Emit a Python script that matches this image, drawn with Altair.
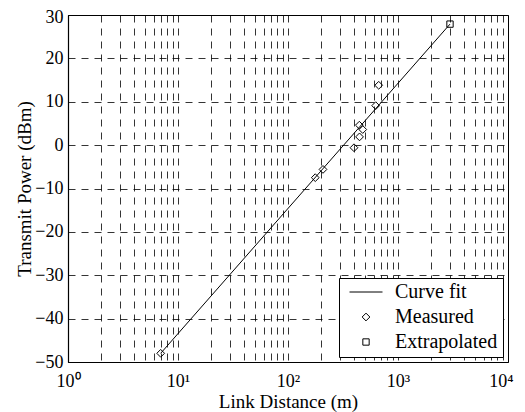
import altair as alt
import pandas as pd

# Measured points (link distance in m, transmit power in dBm)
meas_x = [6.96, 177, 208, 398, 447, 445, 478, 627, 668]
meas_y = [-48.0, -7.5, -5.6, -0.6, 1.9, 4.6, 3.6, 9.1, 13.8]
# Extrapolated point
extra_x = [2970]
extra_y = [27.9]
# Curve fit end points
fit_x = [6.96, 2970]
fit_y = [-48.0, 27.9]

series_names = ["Curve fit", "Measured", "Extrapolated"]
x_grid_values = [m * 10 ** e for e in range(4) for m in range(1, 10)] + [10000]
y_values = [-50, -40, -30, -20, -10, 0, 10, 20, 30]

FONT = "Liberation Serif, Times New Roman, serif"

pts = pd.DataFrame({
    "dist": meas_x + extra_x,
    "power": meas_y + extra_y,
    "series": ["Measured"] * len(meas_x) + ["Extrapolated"] * len(extra_x),
})
fit = pd.DataFrame({"dist": fit_x, "power": fit_y, "series": ["Curve fit"] * len(fit_x)})

label_expr = ("datum.value == 1 ? '10⁰' : datum.value == 10 ? '10¹' : "
              "datum.value == 100 ? '10²' : datum.value == 1000 ? '10³' : "
              "datum.value == 10000 ? '10⁴' : ''")

x_enc = alt.X("dist:Q",
              scale=alt.Scale(type="log", domain=[1, 10000], nice=False),
              axis=alt.Axis(values=x_grid_values, labelExpr=label_expr,
                            labelOverlap=False, title="Link Distance (m)",
                            labelPadding=10, titlePadding=2, labelFlush=False,
                            labelOffset={"condition": {"test": "datum.value == 10000", "value": -7},
                                         "value": 0}))
y_enc = alt.Y("power:Q",
              scale=alt.Scale(domain=[-50, 30], nice=False, zero=False),
              axis=alt.Axis(values=y_values, title="Transmit Power (dBm)",
                            labelPadding=5, titlePadding=0,
                            labelOffset={"condition": {"test": "datum.value == 30", "value": 2},
                                         "value": 0}))

line = alt.Chart(fit).mark_line(color="black", strokeWidth=1).encode(
    x=x_enc, y=y_enc, detail="series:N"
)

leg = alt.Legend(title=None)

points = alt.Chart(pts).mark_point(filled=False, color="black", strokeWidth=1, opacity=1).encode(
    x=x_enc, y=y_enc,
    shape=alt.Shape("series:N",
                    scale=alt.Scale(domain=series_names, range=["stroke", "diamond", "square"]),
                    legend=leg),
    size=alt.Size("series:N",
                  scale=alt.Scale(type="ordinal", domain=series_names, range=[1089, 60, 40]),
                  legend=leg),
)

chart = alt.layer(line, points).properties(
    width=440, height=347,
    autosize=alt.AutoSizeParams(type="none"),
    padding={"left": 60, "top": 7, "right": 9, "bottom": 50},
).configure_view(
    stroke="black", strokeWidth=1
).configure_axis(
    grid=True, gridColor="black", gridDash=[7, 6], gridWidth=0.8, gridOpacity=1,
    domain=True, domainColor="black", domainWidth=1.2,
    ticks=False,
    labelFont=FONT, labelFontSize=18, labelColor="black",
    titleFont=FONT, titleFontSize=19, titleFontWeight="normal", titleColor="black",
).configure_legend(
    orient="bottom-right", offset=5,
    strokeColor="black", fillColor="white", padding=5, symbolOffset=5,
    labelFont=FONT, labelFontSize=20, labelColor="black",
    symbolStrokeColor="black", symbolStrokeWidth=1, symbolFillColor="white",
    labelOffset=12, clipHeight=18, rowPadding=5, cornerRadius=0,
)

chart.save("out.html", embed_options={"renderer": "svg", "actions": False})
